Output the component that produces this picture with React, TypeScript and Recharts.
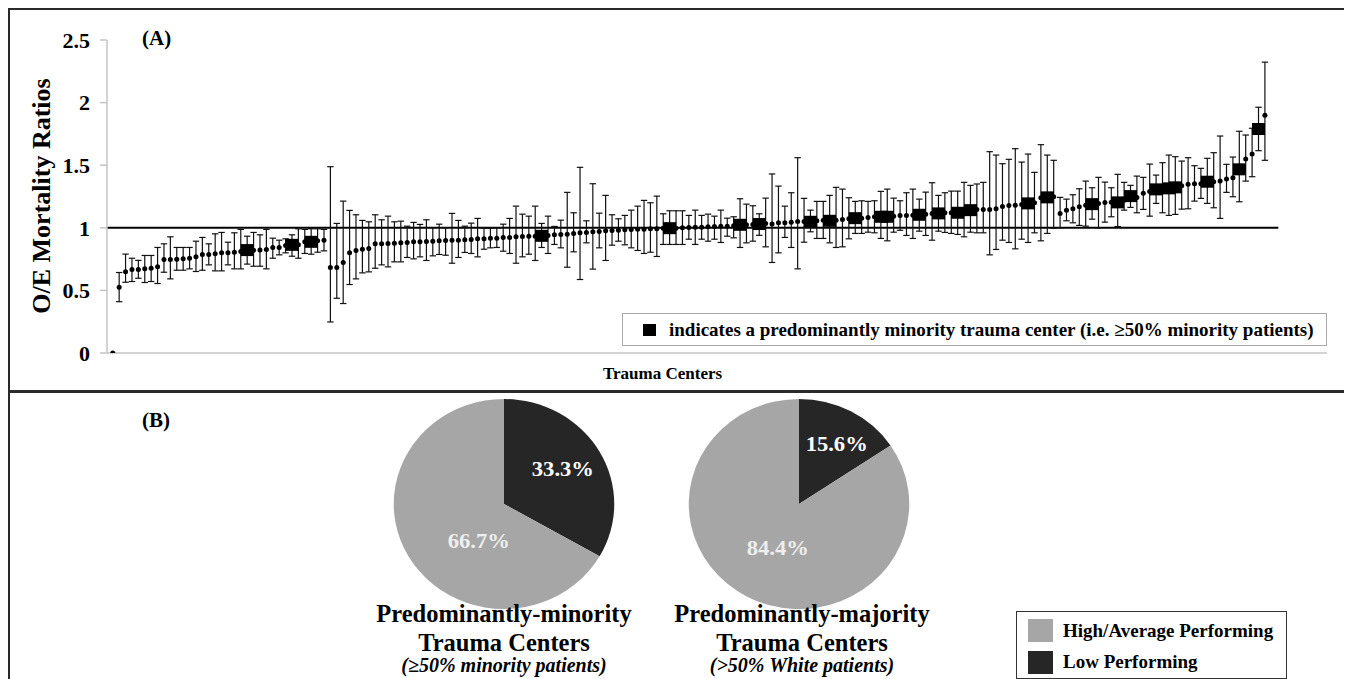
import React from 'react';
import {
  ComposedChart,
  Scatter,
  XAxis,
  YAxis,
  ErrorBar,
  ReferenceLine,
  PieChart,
  Pie,
  Cell,
} from 'recharts';

// ---------- DATA ----------
// O/E mortality ratio of each trauma center (sorted order as in figure)
const oeRatio = [
  0, 0.525, 0.648, 0.667, 0.667, 0.672, 0.677, 0.688, 0.747, 0.747,
  0.749, 0.752, 0.757, 0.768, 0.787, 0.787, 0.792, 0.8, 0.8, 0.805,
  0.81, 0.822, 0.82, 0.822, 0.827, 0.843, 0.843, 0.859, 0.864, 0.864,
  0.888, 0.888, 0.896, 0.901, 0.683, 0.683, 0.723, 0.8, 0.819, 0.829,
  0.835, 0.872, 0.872, 0.875, 0.877, 0.88, 0.883, 0.888, 0.888, 0.891,
  0.893, 0.896, 0.899, 0.901, 0.901, 0.904, 0.907, 0.912, 0.912, 0.917,
  0.917, 0.923, 0.923, 0.928, 0.931, 0.933, 0.933, 0.936, 0.939, 0.944,
  0.947, 0.949, 0.955, 0.96, 0.963, 0.968, 0.971, 0.976, 0.979, 0.981,
  0.984, 0.987, 0.989, 0.989, 0.992, 0.992, 0.997, 0.997, 0.997, 1.0,
  1.003, 1.005, 1.005, 1.008, 1.011, 1.013, 1.013, 1.016, 1.024, 1.024,
  1.027, 1.03, 1.035, 1.03, 1.04, 1.04, 1.045, 1.051, 1.051, 1.048,
  1.056, 1.061, 1.056, 1.061, 1.067, 1.072, 1.077, 1.077, 1.083, 1.088,
  1.088, 1.088, 1.093, 1.099, 1.099, 1.101, 1.104, 1.109, 1.115, 1.115,
  1.12, 1.12, 1.12, 1.13, 1.141, 1.147, 1.147, 1.147, 1.152, 1.171,
  1.179, 1.181, 1.187, 1.195, 1.2, 1.24, 1.243, 1.248, 1.115, 1.141,
  1.152, 1.168, 1.18, 1.189, 1.195, 1.203, 1.205, 1.203, 1.221, 1.253,
  1.243, 1.275, 1.29, 1.307, 1.315, 1.315, 1.323, 1.336, 1.347, 1.352,
  1.352, 1.368, 1.368, 1.373, 1.389, 1.4, 1.467, 1.549, 1.589, 1.789,
  1.899,
];

// lower confidence limits
const ciLower: (number | null)[] = [
  null, 0.41, 0.565, 0.571, 0.597, 0.563, 0.571, 0.555, 0.645, 0.592,
  0.661, 0.661, 0.672, 0.651, 0.661, 0.704, 0.656, 0.656, 0.704, 0.672,
  0.672, 0.71, 0.693, 0.693, 0.672, 0.757, 0.784, 0.8, 0.773, 0.757,
  0.795, 0.789, 0.805, 0.816, 0.248, 0.437, 0.395, 0.547, 0.592, 0.64,
  0.648, 0.677, 0.704, 0.688, 0.728, 0.728, 0.763, 0.752, 0.768, 0.739,
  0.776, 0.787, 0.781, 0.717, 0.763, 0.803, 0.795, 0.768, 0.829, 0.84,
  0.843, 0.813, 0.795, 0.717, 0.768, 0.789, 0.739, 0.843, 0.795, 0.867,
  0.84, 0.685, 0.808, 0.587, 0.88, 0.67, 0.84, 0.739, 0.861, 0.893,
  0.864, 0.84, 0.819, 0.795, 0.805, 0.771, 0.867, 0.867, 0.867, 0.867,
  0.909, 0.867, 0.909, 0.893, 0.909, 0.883, 0.933, 0.92, 0.843, 0.88,
  0.893, 0.94, 0.848, 0.723, 0.8, 0.923, 0.843, 0.672, 0.885, 0.968,
  0.915, 0.915, 0.88, 0.843, 0.848, 0.912, 0.955, 0.955, 0.965, 0.96,
  0.915, 0.896, 0.965, 0.98, 0.939, 0.915, 0.973, 0.939, 0.901, 0.973,
  0.963, 0.955, 0.947, 0.928, 0.965, 0.96, 0.96, 0.784, 0.827, 0.901,
  0.883, 0.832, 0.909, 0.883, 0.96, 0.896, 0.955, 0.997, 1.0, 1.056,
  1.04, 1.019, 1.013, 1.069, 1.0, 1.045, 1.088, 1.01, 1.141, 1.163,
  1.12, 1.147, 1.093, 1.195, 1.12, 1.099, 1.107, 1.149, 1.152, 1.213,
  1.235, 1.195, 1.16, 1.075, 1.283, 1.248, 1.208, 1.373, 1.408, 1.616,
  1.539,
];

// upper confidence limits
const ciUpper: (number | null)[] = [
  null, 0.643, 0.79, 0.757, 0.74, 0.779, 0.779, 0.843, 0.872, 0.928,
  0.843, 0.843, 0.843, 0.893, 0.923, 0.872, 0.952, 0.963, 0.885, 0.96,
  0.987, 0.933, 0.963, 0.944, 0.987, 0.917, 0.901, 0.912, 0.944, 0.992,
  0.987, 0.992, 0.992, 0.987, 1.488, 1.035, 1.213, 1.139, 1.104, 1.059,
  1.048, 1.104, 1.064, 1.093, 1.048, 1.053, 1.013, 1.043, 1.027, 1.064,
  1.0, 1.029, 1.0, 1.115, 1.059, 1.013, 1.037, 1.075, 0.997, 0.997,
  1.0, 1.029, 1.075, 1.173, 1.109, 1.093, 1.173, 1.035, 1.093, 1.011,
  1.061, 1.283, 1.12, 1.483, 1.056, 1.352, 1.117, 1.259, 1.104, 1.072,
  1.099, 1.141, 1.173, 1.219, 1.2, 1.253, 1.112, 1.136, 1.136, 1.136,
  1.099, 1.141, 1.099, 1.109, 1.093, 1.141, 1.077, 1.088, 1.232, 1.189,
  1.176, 1.112, 1.237, 1.43, 1.333, 1.173, 1.28, 1.56, 1.235, 1.141,
  1.211, 1.211, 1.259, 1.323, 1.309, 1.24, 1.211, 1.216, 1.211, 1.216,
  1.291, 1.309, 1.237, 1.216, 1.28, 1.309, 1.229, 1.285, 1.36, 1.259,
  1.28, 1.293, 1.293, 1.363, 1.339, 1.35, 1.363, 1.608, 1.581, 1.512,
  1.547, 1.632, 1.525, 1.589, 1.443, 1.664, 1.581, 1.539, 1.243, 1.229,
  1.264, 1.312, 1.373, 1.32, 1.403, 1.365, 1.32, 1.427, 1.363, 1.339,
  1.413, 1.403, 1.509, 1.421, 1.52, 1.581, 1.568, 1.533, 1.56, 1.496,
  1.475, 1.555, 1.6, 1.733, 1.507, 1.565, 1.771, 1.741, 1.795, 1.963,
  2.323,
];

// indices of predominantly minority trauma centers (drawn as squares)
const minorityCenters = [
  21, 28, 31, 67, 87, 98, 101, 109, 112, 116, 120, 121, 126, 129,
  132, 134, 143, 146, 153, 157, 159, 163, 165, 166, 171, 176, 179,
];

const yTicks = [0, 0.5, 1, 1.5, 2, 2.5];
const referenceRatio = 1;

const performanceLabels = ['Low Performing', 'High/Average Performing'];
const minorityShares = [33.3, 66.7];
const majorityShares = [15.6, 84.4];

// ---------- STYLE CONSTANTS ----------
const FONT = "'Liberation Serif', 'Times New Roman', serif";
const DARK = '#262626';
const LIGHT = '#a6a6a6';
const X_DOMAIN: [number, number] = [-0.9, 189.7];
const REF_END = 182.1;

type Row = { x: number; y: number; err?: [number, number] };

const rows = oeRatio.map((v, i) => {
  const lo = ciLower[i];
  const hi = ciUpper[i];
  const r: Row = { x: i, y: v };
  if (lo != null && hi != null) r.err = [v - lo, hi - v];
  return r;
});
const majorityRows = rows.filter((r) => !minorityCenters.includes(r.x));
const minorityRows = rows.filter((r) => minorityCenters.includes(r.x));

const minorityPie = performanceLabels.map((name, i) => ({ name, value: minorityShares[i] }));
const majorityPie = performanceLabels.map((name, i) => ({ name, value: majorityShares[i] }));

const DotShape = (p: any) =>
  p.cx == null ? null : <circle cx={p.cx} cy={p.cy} r={2.5} fill="#000" />;
const SquareShape = (p: any) =>
  p.cx == null ? null : (
    <rect x={p.cx - 6.5} y={p.cy - 6} width={13} height={12} fill="#000" />
  );

type LabelPos = { r: number; dTheta: number; color: string };
const pie1Labels: LabelPos[] = [
  { r: 0.63, dTheta: -2, color: '#ffffff' },
  { r: 0.42, dTheta: -27, color: '#eeeeee' },
];
const pie2Labels: LabelPos[] = [
  { r: 0.67, dTheta: 2.6, color: '#ffffff' },
  { r: 0.46, dTheta: -3.4, color: '#eeeeee' },
];

const makeLabel = (pos: LabelPos[]) => (p: any) => {
  const { cx, cy, midAngle, outerRadius, index, value } = p;
  const cfg = pos[index];
  const a = ((midAngle - cfg.dTheta) * Math.PI) / 180;
  const r = outerRadius * cfg.r;
  const x = Number(cx) + r * Math.cos(a);
  const y = Number(cy) - r * Math.sin(a);
  return (
    <text
      x={x}
      y={y}
      textAnchor="middle"
      dominantBaseline="central"
      fill={cfg.color}
      style={{ fontFamily: FONT, fontWeight: 'bold', fontSize: 21.5 }}
    >
      {`${Number(value).toFixed(1)}%`}
    </text>
  );
};

const abs = (left: number, top: number, extra: React.CSSProperties = {}): React.CSSProperties => ({
  position: 'absolute',
  left,
  top,
  ...extra,
});

const PieBlock = ({
  data,
  left,
  top,
  labels,
}: {
  data: { name: string; value: number }[];
  left: number;
  top: number;
  labels: LabelPos[];
}) => (
  <div style={abs(left, top, { transform: 'scaleX(1.05)', transformOrigin: '115px 115px' })}>
    <PieChart width={230} height={230} margin={{ top: 0, right: 0, bottom: 0, left: 0 }}>
      <Pie
        data={data}
        dataKey="value"
        nameKey="name"
        cx={115}
        cy={115}
        outerRadius={105}
        startAngle={90}
        endAngle={-270}
        stroke="none"
        labelLine={false}
        label={makeLabel(labels)}
        isAnimationActive={false}
      >
        <Cell fill={DARK} />
        <Cell fill={LIGHT} />
      </Pie>
    </PieChart>
  </div>
);

const PieTitle = ({ center, line1, sub }: { center: number; line1: string; sub: string }) => (
  <>
    <div
      style={abs(center - 170, 590.2, {
        width: 340,
        textAlign: 'center',
        fontSize: 24.5,
        lineHeight: '28.5px',
        whiteSpace: 'nowrap',
      })}
    >
      <div>{line1}</div>
      <div>Trauma Centers</div>
    </div>
    <div
      style={abs(center - 170, 645, {
        width: 340,
        textAlign: 'center',
        fontSize: 20,
        lineHeight: '20px',
        fontStyle: 'italic',
        whiteSpace: 'nowrap',
      })}
    >
      {sub}
    </div>
  </>
);

export default function App() {
  return (
    <div
      style={{
        position: 'relative',
        width: 1336,
        height: 690,
        border: '2px solid #2a2a2a',
        fontFamily: FONT,
        fontWeight: 'bold',
        color: '#000',
        background: '#fff',
      }}
    >
      <style>{`html,body{overflow:hidden;}`}</style>

      {/* Panel A chart */}
      <div style={abs(0, 0)}>
        <ComposedChart
          width={1336}
          height={375}
          margin={{ top: 30, right: 19, bottom: 22, left: 0 }}
        >
          <XAxis
            type="number"
            dataKey="x"
            domain={X_DOMAIN}
            allowDataOverflow
            tick={false}
            tickLine={false}
            axisLine={{ stroke: '#c4c4c4', strokeWidth: 1.5 }}
            height={10}
          />
          <YAxis
            type="number"
            dataKey="y"
            domain={[0, 2.5]}
            ticks={yTicks}
            allowDataOverflow
            width={97}
            tickSize={7}
            tickMargin={10}
            axisLine={{ stroke: '#c4c4c4', strokeWidth: 1.5 }}
            tickLine={{ stroke: '#c4c4c4', strokeWidth: 1.5 }}
            tick={{ fill: '#000', fontSize: 22, fontWeight: 'bold', fontFamily: FONT }}
          />
          <ReferenceLine
            segment={[
              { x: X_DOMAIN[0], y: referenceRatio },
              { x: REF_END, y: referenceRatio },
            ]}
            stroke="#000"
            strokeWidth={2}
          />
          <Scatter
            name="Predominantly-majority"
            data={majorityRows}
            dataKey="y"
            shape={DotShape}
            isAnimationActive={false}
          >
            <ErrorBar dataKey="err" direction="y" width={3.2} stroke="#111" strokeWidth={1.2} />
          </Scatter>
          <Scatter
            name="Predominantly-minority"
            data={minorityRows}
            dataKey="y"
            shape={SquareShape}
            isAnimationActive={false}
          >
            <ErrorBar dataKey="err" direction="y" width={3.2} stroke="#111" strokeWidth={1.2} />
          </Scatter>
        </ComposedChart>
      </div>

      {/* Panel A texts */}
      <div style={abs(132, 18.4, { fontSize: 21, lineHeight: '21px' })}>(A)</div>
      <div
        style={abs(32, 186, {
          fontSize: 26,
          lineHeight: '26px',
          whiteSpace: 'nowrap',
          transform: 'translate(-50%, -50%) rotate(-90deg)',
        })}
      >
        O/E Mortality Ratios
      </div>
      <div style={abs(593, 354.8, { fontSize: 17, lineHeight: '17px', whiteSpace: 'nowrap' })}>
        Trauma Centers
      </div>
      <div
        style={abs(612, 303, {
          width: 705,
          height: 33,
          boxSizing: 'border-box',
          border: '1px solid #a8a8a8',
          background: '#fff',
          display: 'flex',
          alignItems: 'center',
          fontSize: 19,
          whiteSpace: 'nowrap',
        })}
      >
        <span
          style={{
            display: 'inline-block',
            width: 13,
            height: 12,
            background: '#000',
            marginLeft: 20,
            marginRight: 13,
          }}
        />
        <span>indicates a predominantly minority trauma center (i.e. ≥50% minority patients)</span>
      </div>

      {/* Divider */}
      <div style={abs(0, 380, { width: 1336, height: 3, background: '#2a2a2a' })} />

      {/* Panel B */}
      <div style={abs(132, 400.4, { fontSize: 21, lineHeight: '21px' })}>(B)</div>

      <PieBlock data={minorityPie} left={379} top={379} labels={pie1Labels} />
      <PieBlock data={majorityPie} left={674} top={379} labels={pie2Labels} />

      <PieTitle center={494} line1="Predominantly-minority" sub="(≥50% minority patients)" />
      <PieTitle center={792} line1="Predominantly-majority" sub="(>50% White patients)" />

      {/* Panel B legend */}
      <div
        style={abs(1006, 601, {
          width: 271,
          height: 68,
          boxSizing: 'border-box',
          border: '1.5px solid #333',
          background: '#fff',
        })}
      >
        <div style={abs(11, 7, { width: 25, height: 23, background: LIGHT })} />
        <div style={abs(11, 39, { width: 25, height: 23, background: DARK })} />
        <div style={abs(46, 8.5, { fontSize: 19, lineHeight: '19px', whiteSpace: 'nowrap' })}>
          {performanceLabels[1]}
        </div>
        <div style={abs(46, 39.5, { fontSize: 19, lineHeight: '19px', whiteSpace: 'nowrap' })}>
          {performanceLabels[0]}
        </div>
      </div>
    </div>
  );
}
